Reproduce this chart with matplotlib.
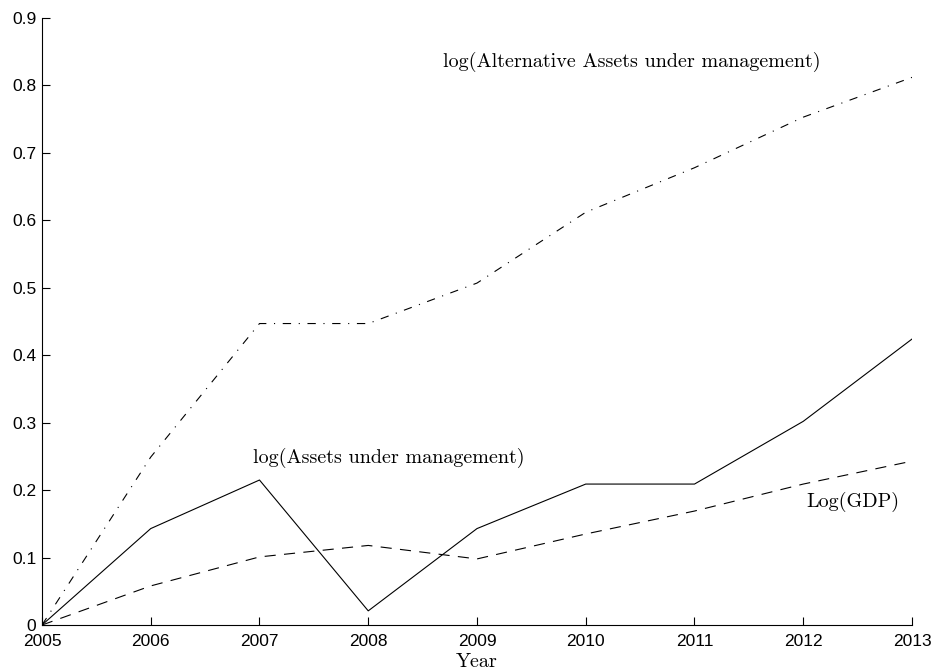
import matplotlib
matplotlib.use("Agg")
import matplotlib.pyplot as plt

# data
years = [2005, 2006, 2007, 2008, 2009, 2010, 2011, 2012, 2013]
log_aum = [0.0, 0.143, 0.215, 0.021, 0.143, 0.209, 0.209, 0.302, 0.424]
log_alt_aum = [0.0, 0.249, 0.447, 0.447, 0.507, 0.612, 0.678, 0.753, 0.812]
log_gdp = [0.0, 0.058, 0.101, 0.118, 0.098, 0.135, 0.169, 0.209, 0.243]
yticks = [0, 0.1, 0.2, 0.3, 0.4, 0.5, 0.6, 0.7, 0.8, 0.9]
ytick_labels = ["0", "0.1", "0.2", "0.3", "0.4", "0.5", "0.6", "0.7", "0.8", "0.9"]

plt.rcParams["lines.scale_dashes"] = False
plt.rcParams["font.family"] = ["Liberation Sans", "DejaVu Sans"]

fig = plt.figure(figsize=(9.35, 6.72), dpi=100)
ax = fig.add_axes([0.0449, 0.0699, 0.9305, 0.9033])

ax.plot(years, log_aum, color="black", lw=0.8, linestyle="-")
ax.plot(years, log_alt_aum, color="black", lw=0.8, linestyle=(0, (6, 5.5, 0.8, 5.5)))
ax.plot(years, log_gdp, color="black", lw=0.8, linestyle=(0, (8, 6)))

ax.set_xlim(2005, 2013)
ax.set_ylim(0, 0.9)
ax.set_xticks(years)
ax.set_xticklabels([str(y) for y in years])
ax.set_yticks(yticks)
ax.set_yticklabels(ytick_labels)

for s in ["top", "right"]:
    ax.spines[s].set_visible(False)
for s in ["left", "bottom"]:
    ax.spines[s].set_linewidth(0.8)
ax.tick_params(direction="in", length=6, width=0.8, labelsize=12.5)
ax.tick_params(axis="x", pad=6.5)
ax.tick_params(axis="y", pad=4)

# 注释文字 (Computer Modern style)
serif = ["cmr10", "DejaVu Serif"]
ax.text(2010.42, 0.835, "log(Alternative Assets under management)",
        family=serif, fontsize=14.5, ha="center", va="center")
ax.text(2008.19, 0.247, "log(Assets under management)",
        family=serif, fontsize=14.5, ha="center", va="center")
ax.text(2012.46, 0.182, "Log(GDP)",
        family=serif, fontsize=14.5, ha="center", va="center")
ax.set_xlabel("Year", family=serif, fontsize=14.5, labelpad=3)

fig.savefig("out.png", dpi=100)
